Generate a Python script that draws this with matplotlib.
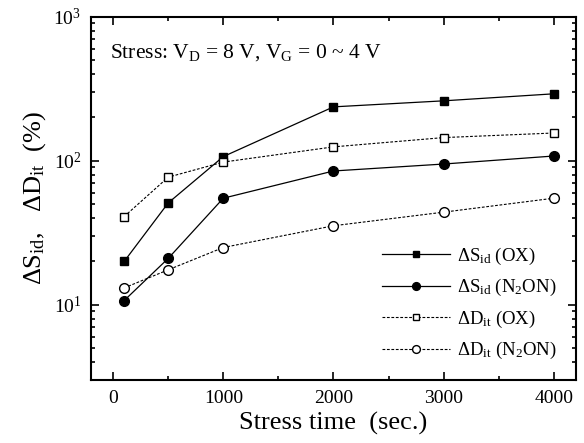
import matplotlib
matplotlib.use("Agg")
import matplotlib.pyplot as plt
from matplotlib.ticker import FixedLocator, LogLocator, NullFormatter

plt.rcParams['font.family'] = ['Liberation Serif', 'DejaVu Serif']
plt.rcParams['mathtext.fontset'] = 'custom'
plt.rcParams['mathtext.rm'] = 'Liberation Serif'
plt.rcParams['mathtext.it'] = 'Liberation Serif'

# stress time (sec.)
stress_time = [100, 500, 1000, 2000, 3000, 4000]

# degradation (%)
sid_ox = [20, 51, 107, 237, 261, 292]
sid_n2on = [10.7, 21, 55, 85, 95, 108]
dit_ox = [41, 77, 98, 125, 145, 156]
dit_n2on = [13.1, 17.5, 25, 35.4, 44, 55]

x_ticks = [0, 1000, 2000, 3000, 4000]

fig = plt.figure(figsize=(5.84, 4.43), dpi=100)
ax = fig.add_axes([0.156, 0.142, 0.830, 0.820])

ax.plot(stress_time, sid_ox, '-', color='black', lw=0.9, marker='s', ms=6,
        mfc='black', mec='black', label=r'$\Delta$S$_{\rm id}$ (OX)')
ax.plot(stress_time, sid_n2on, '-', color='black', lw=0.9, marker='o', ms=7,
        mfc='black', mec='black', label=r'$\Delta$S$_{\rm id}$ (N$_2$ON)')
ax.plot(stress_time, dit_ox, '--', dashes=(2.5, 1.5), color='black', lw=0.8,
        marker='s', ms=6, mfc='white', mec='black', label=r'$\Delta$D$_{\rm it}$ (OX)')
ax.plot(stress_time, dit_n2on, '--', dashes=(2.5, 1.5), color='black', lw=0.8,
        marker='o', ms=7, mfc='white', mec='black', label=r'$\Delta$D$_{\rm it}$ (N$_2$ON)')

ax.set_yscale('log')
ax.set_xlim(-200, 4200)
ax.set_ylim(3, 1000)
ax.xaxis.set_major_locator(FixedLocator(x_ticks))
ax.xaxis.set_minor_locator(FixedLocator([500, 1500, 2500, 3500]))
ax.yaxis.set_major_locator(LogLocator(base=10, numticks=5))
ax.yaxis.set_minor_locator(LogLocator(base=10, subs=range(2, 10), numticks=20))
ax.yaxis.set_minor_formatter(NullFormatter())
ax.tick_params(which='both', direction='in', top=True, right=True, width=1.2)
ax.tick_params(which='major', length=6, labelsize=14, pad=7)
ax.tick_params(which='minor', length=3)
for s in ax.spines.values():
    s.set_linewidth(1.5)

ax.set_xlabel('Stress time  (sec.)', fontsize=19, labelpad=4)
ax.set_ylabel(r'$\Delta$S$_{\rm id}$,   $\Delta$D$_{\rm it}$  (%)', fontsize=19, labelpad=4)

ax.text(0.04, 0.93, r'Stress: V$_{\rm D}$ = 8 V, V$_{\rm G}$ = 0 ~ 4 V',
        transform=ax.transAxes, fontsize=15.5, va='top')

ax.legend(loc='lower right', frameon=False, fontsize=13.5, handlelength=3.6,
          labelspacing=0.55, handletextpad=0.4, borderaxespad=0.6, markerscale=0.8)

fig.savefig('out.png', dpi=100)
